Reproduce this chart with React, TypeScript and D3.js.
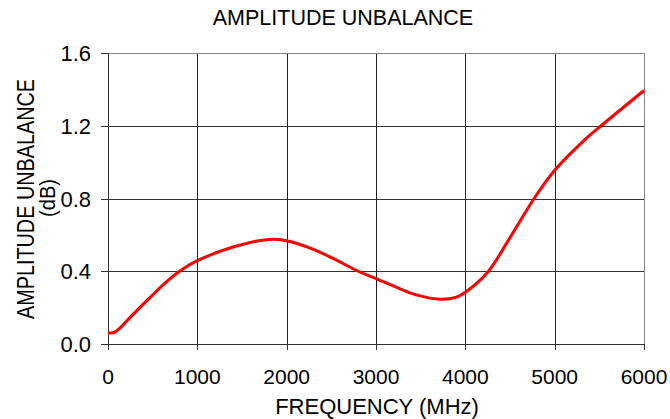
import { useMemo } from 'react';
import * as d3 from 'd3';

// frequency (MHz) vs amplitude unbalance (dB)
const freqs = [0, 75, 280, 500, 650, 800, 1000, 1400, 1800, 2000, 2250, 2500, 2800, 3000, 3200, 3450, 3727, 3900, 4000, 4250, 4500, 4770, 5000, 5330, 5520, 6000];
const unbalance = [0.062, 0.065, 0.163, 0.27, 0.34, 0.4, 0.458, 0.533, 0.575, 0.568, 0.53, 0.475, 0.4, 0.36, 0.318, 0.27, 0.246, 0.258, 0.285, 0.395, 0.585, 0.8, 0.955, 1.12, 1.2, 1.394];

const xTicks = [0, 1000, 2000, 3000, 4000, 5000, 6000];
const yTicks = [0, 0.4, 0.8, 1.2, 1.6];

const W = 670;
const H = 419;
const M = { left: 108, right: 26, top: 53, bottom: 75 };
const FONT = '"Liberation Sans", Arial, sans-serif';

export default function App() {
	const x = useMemo(() => d3.scaleLinear().domain([0, 6000]).range([M.left, W - M.right]), []);
	const y = useMemo(() => d3.scaleLinear().domain([0, 1.6]).range([H - M.bottom, M.top]), []);

	const points = freqs.map((f, i) => ({ f, v: unbalance[i] }));
	const line = d3
		.line<{ f: number; v: number }>()
		.x((d) => x(d.f))
		.y((d) => y(d.v))
		.curve(d3.curveCatmullRom.alpha(0.5));

	const x0 = x(0);
	const x1 = x(6000);
	const y0 = y(0);
	const y1 = y(1.6);
	const px = (v: number) => Math.round(v) + 0.5;

	return (
		<svg width={W} height={H} style={{ position: 'absolute', left: 0, top: 0, background: '#fff' }} fontFamily={FONT}>
			<text x={343} y={25} fontSize={21.5} textAnchor="middle" fill="#000">
				AMPLITUDE UNBALANCE
			</text>

			{/* grid */}
			{yTicks.slice(1, -1).map((t) => (
				<line key={'gy' + t} x1={x0} x2={x1} y1={px(y(t))} y2={px(y(t))} stroke="#333" />
			))}
			{xTicks.slice(1, -1).map((t) => (
				<line key={'gx' + t} x1={px(x(t))} x2={px(x(t))} y1={y1} y2={y0} stroke="#222" />
			))}

			{/* frame: top/right lighter */}
			<line x1={x0} x2={x1} y1={px(y1)} y2={px(y1)} stroke="#888" />
			<line x1={px(x1)} x2={px(x1)} y1={y1} y2={y0} stroke="#888" />

			{/* axes */}
			<line x1={px(x0)} x2={px(x0)} y1={y1} y2={y0 + 6} stroke="#333" />
			<line x1={x0 - 7} x2={x1} y1={px(y0)} y2={px(y0)} stroke="#333" />

			{yTicks.map((t) => (
				<g key={'ty' + t}>
					<line x1={x0 - 7} x2={x0} y1={px(y(t))} y2={px(y(t))} stroke="#333" />
					<text x={91} y={y(t) + 8} fontSize={22} textAnchor="end" fill="#000">
						{t.toFixed(1)}
					</text>
				</g>
			))}
			{xTicks.map((t) => (
				<g key={'tx' + t}>
					<line x1={px(x(t))} x2={px(x(t))} y1={y0} y2={y0 + 6} stroke="#333" />
					<text x={x(t)} y={384} fontSize={21} textAnchor="middle" fill="#000">
						{t}
					</text>
				</g>
			))}

			<path d={line(points) ?? ''} fill="none" stroke="#ff0000" strokeWidth={3} strokeLinejoin="round" />

			<text x={377} y={414} fontSize={22} textAnchor="middle" fill="#000">
				FREQUENCY (MHz)
			</text>
			<g transform="translate(34,199) rotate(-90)">
				<text x={0} y={0} fontSize={23} textAnchor="middle" fill="#000" textLength={240} lengthAdjust="spacingAndGlyphs">
					AMPLITUDE UNBALANCE
				</text>
				<text x={1} y={21} fontSize={22} textAnchor="middle" fill="#000" textLength={38} lengthAdjust="spacingAndGlyphs">
					(dB)
				</text>
			</g>
		</svg>
	);
}
